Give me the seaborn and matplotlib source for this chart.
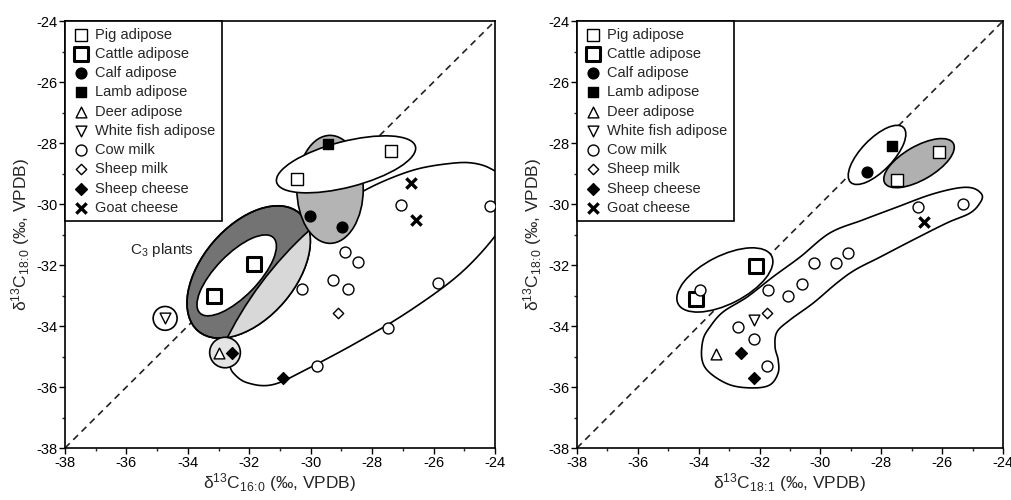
import numpy as np
import pandas as pd
import matplotlib
matplotlib.use("Agg")
import matplotlib.pyplot as plt
from matplotlib.patches import Ellipse, Circle
from matplotlib.ticker import MultipleLocator
import seaborn as sns

sns.set_theme(style="ticks")
plt.rcParams['font.family'] = ['Liberation Sans', 'DejaVu Sans']
plt.rcParams['mathtext.default'] = 'regular'
plt.rcParams['axes.unicode_minus'] = False

# ---- data (left: d13C16:0 vs d13C18:0, right: d13C18:1 vs d13C18:0)
groups = ["Pig adipose", "Cattle adipose", "Calf adipose", "Lamb adipose", "Deer adipose",
          "White fish adipose", "Cow milk", "Sheep milk", "Sheep cheese", "Goat cheese"]

left_x = {
    "Pig adipose": [-27.4, -30.44],
    "Cattle adipose": [-31.84, -33.15],
    "Calf adipose": [-30.02, -28.98],
    "Lamb adipose": [-29.43],
    "Deer adipose": [-32.98],
    "White fish adipose": [-34.74],
    "Cow milk": [-27.06, -24.16, -30.28, -28.88, -28.46, -29.27, -28.78, -25.85, -27.48, -29.79],
    "Sheep milk": [-29.11],
    "Sheep cheese": [-32.56, -30.9],
    "Goat cheese": [-26.73, -26.57],
}
left_y = {
    "Pig adipose": [-28.27, -29.19],
    "Cattle adipose": [-31.98, -33.03],
    "Calf adipose": [-30.4, -30.77],
    "Lamb adipose": [-28.04],
    "Deer adipose": [-34.87],
    "White fish adipose": [-33.75],
    "Cow milk": [-30.04, -30.07, -32.8, -31.59, -31.91, -32.5, -32.8, -32.6, -34.05, -35.3],
    "Sheep milk": [-33.56],
    "Sheep cheese": [-34.87, -35.69],
    "Goat cheese": [-29.32, -30.54],
}
right_x = {
    "Pig adipose": [-26.1, -27.48],
    "Cattle adipose": [-32.12, -34.09],
    "Calf adipose": [-28.47],
    "Lamb adipose": [-27.65],
    "Deer adipose": [-33.43],
    "White fish adipose": [-32.18],
    "Cow milk": [-26.79, -25.31, -33.96, -31.72, -31.06, -30.6, -30.21, -29.49, -29.09,
                 -32.7, -32.18, -31.76],
    "Sheep milk": [-31.76],
    "Sheep cheese": [-32.61, -32.18],
    "Goat cheese": [-26.6],
}
right_y = {
    "Pig adipose": [-28.3, -29.21],
    "Cattle adipose": [-32.03, -33.11],
    "Calf adipose": [-28.95],
    "Lamb adipose": [-28.1],
    "Deer adipose": [-34.92],
    "White fish adipose": [-33.8],
    "Cow milk": [-30.1, -30.0, -32.82, -32.82, -33.02, -32.62, -31.93, -31.93, -31.6,
                 -34.03, -34.43, -35.3],
    "Sheep milk": [-33.57],
    "Sheep cheese": [-34.89, -35.7],
    "Goat cheese": [-30.6],
}

# marker, face colour, size (points^2), edge width
styles = {
    "Pig adipose": ("s", "white", 70, 1.0),
    "Cattle adipose": ("s", "white", 95, 2.2),
    "Calf adipose": ("o", "black", 60, 1.0),
    "Lamb adipose": ("s", "black", 60, 1.0),
    "Deer adipose": ("^", "white", 60, 1.0),
    "White fish adipose": ("v", "white", 60, 1.0),
    "Cow milk": ("o", "white", 62, 1.0),
    "Sheep milk": ("D", "white", 28, 1.0),
    "Sheep cheese": ("D", "black", 36, 1.0),
    "Goat cheese": ("x", "black", 55, 2.4),
}

# grouping outlines (data units): centre x, centre y, width, height, angle, fill
c3_outer = (-32.02, -32.23, 5.08, 3.03, 49.7, "#737373")
c3_inner = (-32.41, -32.34, 3.44, 1.38, 46, "white")
c3_light_circle = (-21.9, -39.81, 12.1)   # centre x, centre y, radius; clipped to outer
left_front = [
    (-29.37, -29.52, 2.16, 3.54, 0, "#b4b4b4"),
    (-28.85, -28.70, 4.67, 1.5, 14.6, "white"),
    (-34.74, -33.75, 0.78, 0.78, 0, "white"),
    (-32.79, -34.87, 1.0, 1.0, 0, "#e4e4e4"),
]
right_ellipses = [
    (-28.14, -28.39, 2.5, 1.05, 46, "white"),
    (-26.76, -28.66, 2.6, 1.1, 30, "#b0b0b0"),
    (-33.14, -32.49, 3.45, 1.58, 27, "white"),
]
left_curve_x = [-28.65, -28.29, -27.41, -26.44, -25.36, -24.71, -24.16, -23.67, -23.50, -23.93,
                -25.13, -26.76, -28.39, -30.02, -31.22, -32.07, -32.53, -32.66]
left_curve_y = [-29.88, -29.58, -29.16, -28.83, -28.66, -28.66, -28.83, -29.22, -30.04, -30.96,
                -32.28, -33.49, -34.48, -35.36, -35.92, -35.86, -35.53, -35.20]
right_shape_x = [-24.99, -24.69, -24.76, -25.09, -25.84, -26.96, -28.04, -28.86, -29.46, -30.24,
                 -31.0, -31.43, -31.49, -31.39, -31.39, -31.66, -32.22, -32.97, -33.63, -33.89,
                 -33.86, -33.63, -33.20, -32.41, -31.56, -30.67, -29.69, -28.60, -27.48, -26.40,
                 -25.51]
right_shape_y = [-29.48, -29.70, -29.97, -30.30, -30.62, -31.18, -31.74, -32.16, -32.59, -33.25,
                 -33.80, -34.20, -34.69, -35.11, -35.54, -35.93, -36.03, -35.93, -35.54, -35.11,
                 -34.46, -34.03, -33.54, -33.05, -32.39, -31.74, -30.95, -30.52, -30.10, -29.70,
                 -29.48]


def smooth(xs, ys, closed, n=16):
    P = np.column_stack([xs, ys])
    if closed:
        P = np.vstack([P[-1], P, P[0], P[1]])
    else:
        P = np.vstack([P[0], P, P[-1]])
    t = np.linspace(0, 1, n, endpoint=False)[:, None]
    out = []
    for i in range(1, len(P) - 2):
        p0, p1, p2, p3 = P[i - 1], P[i], P[i + 1], P[i + 2]
        out.append(0.5 * (2 * p1 + (p2 - p0) * t + (2 * p0 - 5 * p1 + 4 * p2 - p3) * t ** 2
                          + (3 * p1 - p0 - 3 * p2 + p3) * t ** 3))
    out.append(P[-2][None])
    return np.vstack(out)


def make_df(xd, yd):
    rows = []
    for g in groups:
        for x, y in zip(xd[g], yd[g]):
            rows.append({"group": g, "x": x, "y": y})
    return pd.DataFrame(rows)


def draw_points(ax, df):
    for g in groups:
        m, fc, s, lw = styles[g]
        sub = df[df["group"] == g]
        if m == "x":
            sns.scatterplot(data=sub, x="x", y="y", marker=m, color="black", s=s,
                            linewidth=lw, ax=ax, label=g, zorder=6)
        else:
            sns.scatterplot(data=sub, x="x", y="y", marker=m, facecolor=fc, edgecolor="black",
                            s=s, linewidth=lw, ax=ax, label=g, zorder=6)


def style_axes(ax, xlabel, ylabel):
    ax.set_xlim(-38, -24)
    ax.set_ylim(-38, -24)
    ax.xaxis.set_major_locator(MultipleLocator(2))
    ax.yaxis.set_major_locator(MultipleLocator(2))
    ax.xaxis.set_minor_locator(MultipleLocator(1))
    ax.yaxis.set_minor_locator(MultipleLocator(1))
    ax.tick_params(which="major", direction="out", length=4, width=1, labelsize=10.5,
                   colors="black", pad=1.5)
    ax.tick_params(which="minor", direction="out", length=2.5, width=1)
    for sp in ax.spines.values():
        sp.set_visible(True)
        sp.set_linewidth(1.2)
        sp.set_color("black")
    ax.set_xlabel(xlabel, fontsize=12.5, labelpad=1)
    ax.set_ylabel(ylabel, fontsize=12.5, labelpad=3)
    ax.plot([-38, -24], [-38, -24], ls=(0, (4, 3)), color="#222222", lw=1.2, zorder=1)
    leg = ax.legend(loc="upper left", borderaxespad=0, frameon=True, fancybox=False,
                    fontsize=10.5, labelspacing=0.36, handletextpad=0.3, handlelength=1.3,
                    borderpad=0.45, markerscale=1.0)
    leg.get_frame().set_edgecolor("black")
    leg.get_frame().set_linewidth(1.2)
    leg.get_frame().set_alpha(1)
    leg.set_zorder(10)


def ellipse(spec, z):
    cx, cy, w, h, ang, fc = spec
    return Ellipse((cx, cy), w, h, angle=ang, facecolor=fc, edgecolor="black", lw=1.2, zorder=z)


fig = plt.figure(figsize=(10.11, 5.0), dpi=100)
ax1 = fig.add_axes([0.0643, 0.104, 0.4253, 0.854])
ax2 = fig.add_axes([0.5707, 0.104, 0.4214, 0.854])

# left panel
curve = smooth(left_curve_x, left_curve_y, closed=False)
ax1.plot(curve[:, 0], curve[:, 1], color="black", lw=1.2, zorder=1.5)
outer = ax1.add_patch(ellipse(c3_outer, 2.0))
ax1.add_patch(ellipse(c3_inner, 2.1))
lc = ax1.add_patch(Circle(c3_light_circle[:2], c3_light_circle[2], facecolor="#d8d8d8",
                          edgecolor="black", lw=1.2, zorder=2.2))
lc.set_clip_path(outer)
ax1.add_patch(Ellipse(c3_outer[:2], c3_outer[2], c3_outer[3], angle=c3_outer[4],
                      facecolor="none", edgecolor="black", lw=1.2, zorder=2.3))
for i, spec in enumerate(left_front):
    ax1.add_patch(ellipse(spec, 3 + i * 0.1))
ax1.text(-34.85, -31.5, "C$_3$ plants", fontsize=11, ha="center", va="center", zorder=7)
draw_points(ax1, make_df(left_x, left_y))
style_axes(ax1, r"δ$^{13}$C$_{16\!:\!0}$ (‰, VPDB)", r"δ$^{13}$C$_{18\!:\!0}$ (‰, VPDB)")

# right panel
shape = smooth(right_shape_x, right_shape_y, closed=True)
ax2.fill(shape[:, 0], shape[:, 1], facecolor="white", edgecolor="black", lw=1.2, zorder=2)
for i, spec in enumerate(right_ellipses):
    ax2.add_patch(ellipse(spec, 3 + i * 0.1))
draw_points(ax2, make_df(right_x, right_y))
style_axes(ax2, r"δ$^{13}$C$_{18\!:\!1}$ (‰, VPDB)", r"δ$^{13}$C$_{18\!:\!0}$ (‰, VPDB)")

fig.savefig("out.png", dpi=100, facecolor="white")
